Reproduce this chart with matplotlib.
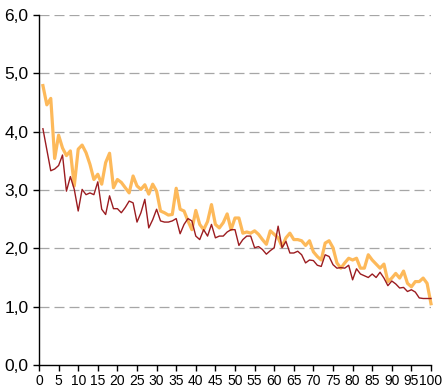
import matplotlib
matplotlib.use("Agg")
import matplotlib.pyplot as plt
import numpy as np

plt.rcParams['font.family'] = ['Liberation Sans', 'DejaVu Sans']

# x positions 1..100
x = np.arange(1, 101)

orange = [4.79, 4.46, 4.57, 3.54, 3.94, 3.72, 3.59, 3.67, 3.07, 3.70,
          3.77, 3.64, 3.44, 3.18, 3.27, 3.10, 3.47, 3.63, 3.04, 3.18,
          3.13, 3.04, 2.95, 3.24, 3.07, 3.01, 3.09, 2.93, 3.10, 2.98,
          2.64, 2.61, 2.57, 2.58, 3.03, 2.67, 2.64, 2.47, 2.32, 2.65,
          2.41, 2.32, 2.46, 2.75, 2.41, 2.35, 2.44, 2.59, 2.32, 2.52,
          2.52, 2.26, 2.28, 2.26, 2.30, 2.24, 2.15, 2.07, 2.30, 2.24,
          2.18, 2.03, 2.18, 2.26, 2.15, 2.15, 2.13, 2.05, 2.13, 1.94,
          1.86, 1.80, 2.09, 2.13, 2.01, 1.75, 1.66, 1.75, 1.83, 1.80,
          1.83, 1.66, 1.66, 1.89, 1.80, 1.73, 1.66, 1.73, 1.43, 1.49,
          1.57, 1.49, 1.61, 1.40, 1.34, 1.43, 1.43, 1.49, 1.40, 1.05]

red = [4.05, 3.69, 3.33, 3.36, 3.42, 3.60, 2.98, 3.23, 3.01, 2.64,
       3.01, 2.92, 2.95, 2.92, 3.14, 2.67, 2.58, 2.90, 2.68, 2.68,
       2.61, 2.70, 2.81, 2.78, 2.45, 2.61, 2.84, 2.35, 2.49, 2.67,
       2.47, 2.45, 2.45, 2.47, 2.51, 2.25, 2.41, 2.51, 2.47, 2.21,
       2.15, 2.32, 2.21, 2.41, 2.18, 2.21, 2.21, 2.28, 2.32, 2.32,
       2.05, 2.15, 2.21, 2.21, 2.01, 2.03, 1.98, 1.90, 1.96, 2.01,
       2.38, 2.01, 2.12, 1.92, 1.92, 1.95, 1.89, 1.75, 1.80, 1.79,
       1.71, 1.69, 1.89, 1.86, 1.72, 1.66, 1.67, 1.66, 1.71, 1.46,
       1.65, 1.56, 1.53, 1.50, 1.56, 1.50, 1.59, 1.49, 1.36, 1.44,
       1.39, 1.32, 1.33, 1.26, 1.29, 1.25, 1.15, 1.14, 1.14, 1.14]

xticks = list(range(0, 101, 5))
yticks = [0, 1, 2, 3, 4, 5, 6]
ylabels = ["0,0", "1,0", "2,0", "3,0", "4,0", "5,0", "6,0"]

fig = plt.figure(figsize=(4.42, 3.92), dpi=100)
ax = fig.add_axes([39 / 442, 27 / 392, 392 / 442, 350 / 392])

# dashed gridlines
for yv in yticks[1:]:
    ax.axhline(yv, color='#a6a6a6', linewidth=0.9, linestyle=(0, (8, 4)), zorder=1)

ax.plot(x, orange, color='#fdb95a', linewidth=2.3, zorder=2, clip_on=False)
ax.plot(x, red, color='#9b1c20', linewidth=1.0, zorder=3, clip_on=False)

ax.set_xlim(0, 100)
ax.set_ylim(0, 6)
ax.set_xticks(xticks)
ax.set_xticklabels([str(t) for t in xticks], fontsize=10)
ax.set_yticks(yticks)
ax.set_yticklabels(ylabels, fontsize=12.5)

ax.spines['top'].set_visible(False)
ax.spines['right'].set_visible(False)
ax.spines['left'].set_linewidth(1.0)
ax.spines['bottom'].set_linewidth(1.0)
ax.tick_params(axis='both', direction='out', length=4.5, width=1.0, color='black')
ax.tick_params(axis='y', pad=3)
ax.tick_params(axis='x', pad=2)

fig.savefig('out.png', dpi=100)
